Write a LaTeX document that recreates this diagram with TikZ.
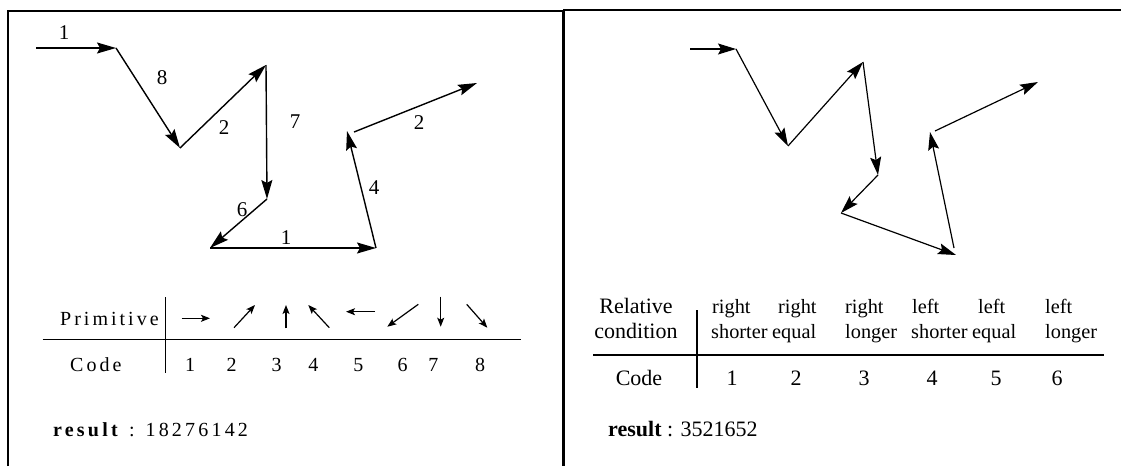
\documentclass[tikz,border=0pt]{standalone}
\usepackage{fontspec}
\setmainfont{Liberation Serif}
\newfontfamily\spacedfont[LetterSpace=15]{Liberation Serif}
\newfontfamily\resfont[LetterSpace=16]{Liberation Serif}
\usetikzlibrary{arrows.meta}
\begin{document}
\begin{tikzpicture}[x=1pt,y=-1pt,
  bigarrow/.style={line width=1.4pt,-{Stealth[length=19pt,width=11pt,inset=3pt]}},
  rbigarrow/.style={line width=1.2pt,-{Stealth[length=18pt,width=11pt,inset=3pt]}},
  smallarrow/.style={line width=1.2pt,-{Stealth[length=9pt,width=7pt,inset=2pt]}},
  lbl/.style={font=\fontsize{21}{25}\selectfont,inner sep=0pt},
  ltab/.style={font=\fontsize{20}{24}\selectfont,inner sep=0pt,anchor=base},
  lsp/.style={font=\fontsize{20}{24}\spacedfont,inner sep=0pt,anchor=base west},
  lres/.style={font=\fontsize{20}{24}\resfont,inner sep=0pt,anchor=base west},
  rtab/.style={font=\fontsize{20.3}{24}\selectfont,inner sep=0pt,anchor=base west},
  rnum/.style={font=\fontsize{22}{26}\selectfont,inner sep=0pt,anchor=base},
  rres/.style={font=\fontsize{22}{26}\selectfont,inner sep=0pt,anchor=base west},
  rule/.style={line width=1.5pt},
  thinrule/.style={line width=1.1pt}
]
\useasboundingbox (0,0) rectangle (1121,466);
% frame
\draw[rule] (8,466) -- (8,11) -- (563,11);
\draw[rule] (563,10) -- (1121,10);
\draw[line width=2.2pt] (563.5,10) -- (563.5,466);

% ---------- left panel chain ----------
\coordinate (L0) at (36,48);
\coordinate (L1) at (116,48);
\coordinate (L2) at (180,148);
\coordinate (L3) at (266,65);
\coordinate (L4) at (267,199);
\coordinate (L5) at (210,248);
\coordinate (L6) at (376,248);
\coordinate (L7) at (347,131);
\coordinate (L8) at (354,132);
\coordinate (L9) at (477,83);
\draw[bigarrow] (L0) -- (L1);
\draw[bigarrow] (L1) -- (L2);
\draw[bigarrow] (L2) -- (L3);
\draw[bigarrow] (L3) -- (L4);
\draw[bigarrow] (L4) -- (L5);
\draw[bigarrow] (L5) -- (L6);
\draw[bigarrow] (L6) -- (L7);
\draw[bigarrow] (L8) -- (L9);
\node[lbl] (la) at (64,33) {1};
\node[lbl] (lb) at (162,78) {8};
\node[lbl] (lc) at (224,128) {2};
\node[lbl] (ld) at (295,122) {7};
\node[lbl] (le) at (242,210) {6};
\node[lbl] (lf) at (286,238) {1};
\node[lbl] (lg) at (374,188) {4};
\node[lbl] (lh) at (419,123) {2};

% ---------- left table ----------
\node[lsp] (prim) at (60,325) {Primitive};
\node[lsp] (lcode) at (70,371) {Code};
\draw[rule] (165.7,297) -- (165.7,373);
\draw[rule] (42.7,339.3) -- (521,339.3);
\coordinate (p1a) at (181.7,318.3); \coordinate (p1b) at (210,318.3);
\coordinate (p2a) at (234,327.7);   \coordinate (p2b) at (255,305);
\coordinate (p3a) at (286,328.3);   \coordinate (p3b) at (286,305);
\coordinate (p4a) at (329.3,327.7); \coordinate (p4b) at (308.3,305);
\coordinate (p5a) at (375,311.7);   \coordinate (p5b) at (346,311.7);
\coordinate (p6a) at (418.3,304.3); \coordinate (p6b) at (387.3,326.7);
\coordinate (p7a) at (440.7,296.7); \coordinate (p7b) at (440.7,326.7);
\coordinate (p8a) at (466.7,304.3); \coordinate (p8b) at (487.3,327.7);
\foreach \i in {1,...,8} {\draw[smallarrow] (p\i a) -- (p\i b);}
\node[ltab] (c1) at (190,371) {1};
\node[ltab] (c2) at (231.7,371) {2};
\node[ltab] (c3) at (276.7,371) {3};
\node[ltab] (c4) at (313.3,371) {4};
\node[ltab] (c5) at (358.3,371) {5};
\node[ltab] (c6) at (402.7,371) {6};
\node[ltab] (c7) at (433.3,371) {7};
\node[ltab] (c8) at (480,371) {8};
\node[lres] (lresult) at (53,436) {\textbf{result} : 18276142};

% ---------- right panel chain ----------
\coordinate (R0) at (690,49);
\coordinate (R1) at (736,49);
\coordinate (R2) at (788,146);
\coordinate (R3) at (863,62);
\coordinate (R4) at (878,175);
\coordinate (R5) at (841,213);
\coordinate (R6) at (956,255);
\coordinate (R6s) at (954,248);
\coordinate (R7) at (930,132);
\coordinate (R8) at (935,131);
\coordinate (R9) at (1038,82);
\draw[rbigarrow] (R0) -- (R1);
\draw[rbigarrow] (R1) -- (R2);
\draw[rbigarrow] (R2) -- (R3);
\draw[rbigarrow] (R3) -- (R4);
\draw[rbigarrow] (R4) -- (R5);
\draw[rbigarrow] (R5) -- (R6);
\draw[rbigarrow] (R6s) -- (R7);
\draw[rbigarrow] (R8) -- (R9);

% ---------- right table ----------
\node[rnum] (rel) at (636,313) {Relative};
\node[rnum] (cond) at (636,338) {condition};
\node[rtab] (h1a) at (712,313) {right};
\node[rtab] (h1b) at (711,338) {shorter};
\node[rtab] (h2a) at (778,313) {right};
\node[rtab] (h2b) at (772,338) {equal};
\node[rtab] (h3a) at (845,313) {right};
\node[rtab] (h3b) at (845,338) {longer};
\node[rtab] (h4a) at (912,313) {left};
\node[rtab] (h4b) at (911,338) {shorter};
\node[rtab] (h5a) at (978,313) {left};
\node[rtab] (h5b) at (972,338) {equal};
\node[rtab] (h6a) at (1045,313) {left};
\node[rtab] (h6b) at (1045,338) {longer};
\draw[thinrule] (697,310) -- (697,388);
\draw[thinrule] (593,355) -- (1104,355);
\node[rnum] (rcode) at (639,385) {Code};
\node[rnum] (r1) at (732,385) {1};
\node[rnum] (r2) at (796,385) {2};
\node[rnum] (r3) at (864,385) {3};
\node[rnum] (r4) at (932,385) {4};
\node[rnum] (r5) at (996,385) {5};
\node[rnum] (r6) at (1057,385) {6};
\node[rres] (rresult) at (608,436) {\textbf{result} : 3521652};
\end{tikzpicture}
\end{document}
